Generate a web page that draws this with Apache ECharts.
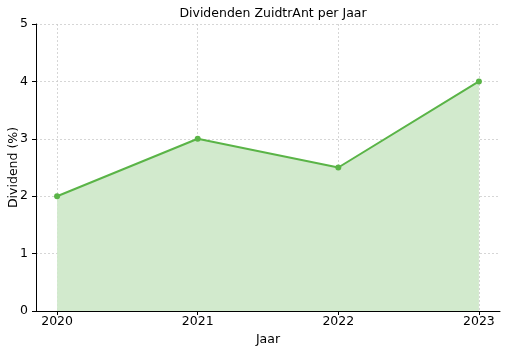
<!DOCTYPE html>
<html>
<head>
<meta charset="utf-8">
<script src="https://cdn.jsdelivr.net/npm/echarts@6/dist/echarts.min.js"></script>
<style>
html, body { margin: 0; padding: 0; background: #fff; }
#chart { width: 508px; height: 351px; }
</style>
</head>
<body>
<div id="chart"></div>
<script>
var years = [2020, 2021, 2022, 2023];
var dividend = [2, 3, 2.5, 4];// dividend in %

var chart = echarts.init(document.getElementById('chart'));
var font = 'DejaVu Sans';

option = {
	animation : false,
	title : {
		text : 'Dividenden ZuidtrAnt per Jaar',
		left : 268,
		top : 2,
		textAlign : 'center',
		textStyle : {
			fontFamily : font,
			fontSize : 12.5,
			fontWeight : 'normal',
			color : '#000'
		}
	},
	grid : {
		left : 36,
		right : 8,
		top : 24,
		bottom : 40,
		containLabel : false,
		outerBoundsMode : 'none'
	},
	xAxis : {
		type : 'value',
		min : 2019.85,
		max : 2023.15,
		name : 'Jaar',
		nameLocation : 'middle',
		nameGap : 22,
		nameTextStyle : { fontFamily : font, fontSize : 12.5, color : '#000' },
		axisLine : { lineStyle : { color : '#000', width : 1 } },
		axisTick : { show : true, length : 4, customValues : years, lineStyle : { color : '#000' } },
		axisLabel : {
			customValues : years,
			fontFamily : font,
			fontSize : 12.5,
			color : '#000',
			margin : 4,
			formatter : function(v) { return String(v); }
		},
		splitLine : { show : true, lineStyle : { color : '#ccc', type : [2, 2], width : 0.8 } }
	},
	yAxis : {
		type : 'value',
		min : 0,
		max : 5,
		interval : 1,
		name : 'Dividend (%)',
		nameLocation : 'middle',
		nameGap : 16,
		nameMoveOverlap : false,
		nameTextStyle : { fontFamily : font, fontSize : 12.5, color : '#000' },
		axisLine : { show : true, lineStyle : { color : '#000', width : 1 } },
		axisTick : { show : true, length : 4, lineStyle : { color : '#000' } },
		axisLabel : { fontFamily : font, fontSize : 12.5, color : '#000', margin : 8 },
		splitLine : { show : true, lineStyle : { color : '#ccc', type : [2, 2], width : 0.8 } }
	},
	series : [ {
		type : 'line',
		data : years.map(function(y, i) { return [y, dividend[i]]; }),
		symbol : 'circle',
		symbolSize : 6,
		itemStyle : { color : '#5ab447' },
		lineStyle : { color : '#5ab447', width : 2 },
		areaStyle : { color : '#d2eacd', opacity : 1 }
	} ]
};
chart.setOption(option);
</script>
</body>
</html>
